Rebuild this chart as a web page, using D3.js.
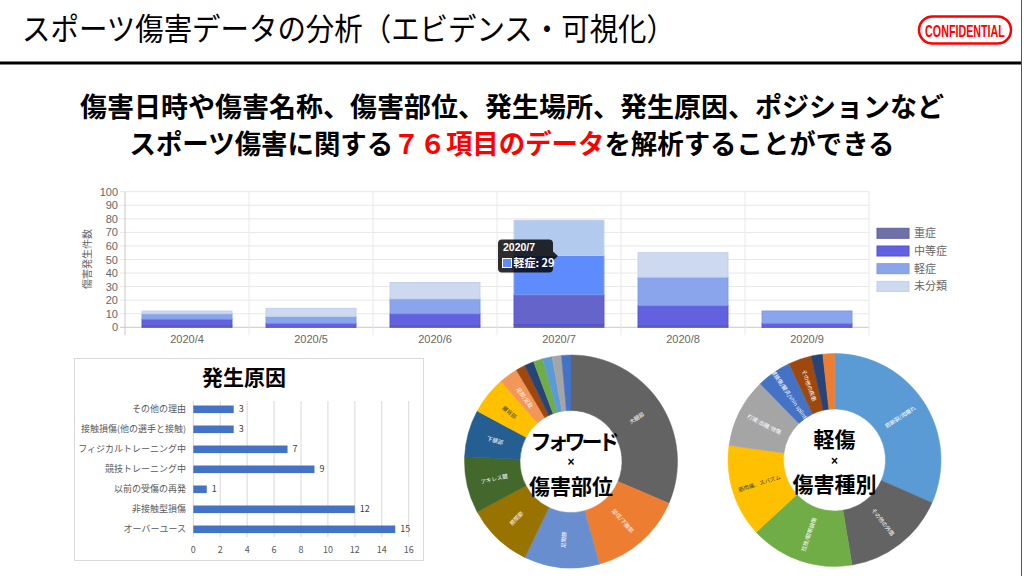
<!DOCTYPE html>
<html>
<head>
<meta charset="utf-8">
<script src="https://cdn.jsdelivr.net/npm/d3@7"></script>
<style>
body { margin: 0; background: #fff; }
svg { display: block; font-family: "Noto Sans CJK JP", "Noto Sans", sans-serif; }
</style>
</head>
<body>
<svg id="slide" width="1024" height="576"></svg>
<script>
// ---- data ----
var months = ["2020/4", "2020/5", "2020/6", "2020/7", "2020/8", "2020/9"];
var severeCounts = [1, 0, 1, 2, 1, 0];
var moderateCounts = [5, 3, 9, 22, 15, 3];
var mildCounts = [4, 5, 11, 29, 21, 9];
var unclassifiedCounts = [2, 6, 12, 26, 18, 0];
var severityNames = ["重症", "中等症", "軽症", "未分類"];
var yTicks = [0, 10, 20, 30, 40, 50, 60, 70, 80, 90, 100];
var hoverMonth = "2020/7";
var hoverSeries = "軽症";

var causeNames = ["その他の理由", "接触損傷(他の選手と接触)", "フィジカルトレーニング中", "競技トレーニング中", "以前の受傷の再発", "非接触型損傷", "オーバーユース"];
var causeCounts = [3, 3, 7, 9, 1, 12, 15];
var causeTicks = [0, 2, 4, 6, 8, 10, 12, 14, 16];

var partNames = ["大腿部", "鼠径/下腹部", "足関節", "膝関節", "アキレス腱", "下腿部", "腰背部", "足部/足趾", "肩関節", "頸部", "手関節", "胸部", "頭部", "前腕"];
var partCounts = [22, 10, 8, 7, 6, 5, 4, 2, 1, 1, 1, 1, 1, 1];
var partColors = ["#636363", "#ED7D31", "#698ED0", "#997300", "#43682B", "#255E91", "#FFC000", "#F1975A", "#9E480E", "#264478", "#70AD47", "#5B9BD5", "#A5A5A5", "#4472C4"];

var typeNames = ["筋断裂/肉離れ", "その他の外傷", "捻挫/靭帯損傷", "筋肉痛、スパズム", "打撲/血腫/挫傷", "腱損傷/腱炎/shin splints", "その他の疾患", "骨折", "脱臼"];
var typeCounts = [18, 9, 9, 8, 6, 3, 2, 1, 1];
var typeColors = ["#5B9BD5", "#636363", "#70AD47", "#FFC000", "#A5A5A5", "#4472C4", "#9E480E", "#264478", "#ED7D31"];

var svg = d3.select("#slide");

// ---- header ----
svg.append("rect").attr("width", 1024).attr("height", 576).attr("fill", "#fff");

svg.append("text")
    .attr("x", 22)
    .attr("y", 40)
    .attr("font-size", 31)
    .attr("textLength", 653)
    .attr("lengthAdjust", "spacingAndGlyphs")
    .attr("fill", "#000")
    .text("スポーツ傷害データの分析（エビデンス・可視化）");

svg.append("rect")
    .attr("x", 0).attr("y", 61.5)
    .attr("width", 1022).attr("height", 3)
    .attr("fill", "#000");
svg.append("line")
    .attr("x1", 1021.5).attr("x2", 1021.5)
    .attr("y1", 0).attr("y2", 576)
    .attr("stroke", "#555").attr("stroke-width", 1);

svg.append("rect")
    .attr("x", 919).attr("y", 16.5)
    .attr("width", 92).attr("height", 27)
    .attr("rx", 13.5)
    .attr("fill", "#fff")
    .attr("stroke", "#f00").attr("stroke-width", 2.5);
// condensed stamp lettering
svg.append("text")
    .attr("transform", "translate(965,36.5) scale(0.67,1)")
    .attr("text-anchor", "middle")
    .attr("font-family", "Liberation Sans, Arial, sans-serif")
    .attr("font-weight", "bold")
    .attr("font-size", 16)
    .attr("fill", "#f00")
    .text("CONFIDENTIAL");

// ---- lead text ----
svg.append("text")
    .attr("x", 512).attr("y", 117)
    .attr("text-anchor", "middle")
    .attr("font-size", 27)
    .attr("font-weight", "bold")
    .attr("fill", "#000")
    .text("傷害日時や傷害名称、傷害部位、発生場所、発生原因、ポジションなど");

var lead2 = svg.append("text")
    .attr("x", 512).attr("y", 154)
    .attr("text-anchor", "middle")
    .attr("font-size", 27)
    .attr("font-weight", "bold")
    .attr("textLength", 765)
    .attr("lengthAdjust", "spacingAndGlyphs")
    .attr("fill", "#000");
lead2.append("tspan").text("スポーツ傷害に関する");
lead2.append("tspan").attr("fill", "#f00").text("７６項目のデータ");
lead2.append("tspan").text("を解析することができる");

// ---- stacked bar chart ----
var fillColors = ["#7070a9", "#6262e0", "#8ba5ec", "#cdd9ee"];
var strokeColors = ["#5f5f9e", "#5151dc", "#7d99e8", "#c2d0ec"];
var hoverColors = ["#5d5d9e", "#6464cb", "#5f8cfc", "#b2caee"];

var rows = months.map(function (m, i) {
    return { month: m, "重症": severeCounts[i], "中等症": moderateCounts[i], "軽症": mildCounts[i], "未分類": unclassifiedCounts[i] };
});
var series = d3.stack().keys(severityNames)(rows);

var x = d3.scaleBand().domain(months).range([125, 869]);
var y = d3.scaleLinear().domain([0, 100]).range([327.3, 191.7]);
var barW = x.bandwidth() * 0.725;

var bar = svg.append("g").attr("font-family", "Liberation Sans, Arial, sans-serif");

// gridlines
bar.selectAll(".hgrid")
    .data(yTicks)
    .enter()
    .append("line")
    .attr("x1", 120).attr("x2", 869)
    .attr("y1", function (d) { return y(d); })
    .attr("y2", function (d) { return y(d); })
    .attr("stroke", function (d) { return d === 0 ? "#c8c8c8" : "#e8e8e8"; })
    .attr("stroke-width", 1);

var bounds = months.map(function (m) { return x(m); }).concat([x.range()[1]]);
bar.selectAll(".vgrid")
    .data(bounds)
    .enter()
    .append("line")
    .attr("x1", function (d) { return d; })
    .attr("x2", function (d) { return d; })
    .attr("y1", y(100))
    .attr("y2", y(0) + 8)
    .attr("stroke", function (d, i) { return i === 0 ? "#c8c8c8" : "#e8e8e8"; })
    .attr("stroke-width", 1);

// axes labels
bar.append("g")
    .attr("transform", "translate(120,0)")
    .call(d3.axisLeft(y).tickValues(yTicks).tickSize(0).tickPadding(2))
    .attr("font-family", "Liberation Sans, Arial, sans-serif")
    .attr("font-size", 11)
    .call(function (g) { g.select(".domain").remove(); })
    .selectAll("text").attr("fill", "#666");

bar.append("g")
    .attr("transform", "translate(0," + y(0) + ")")
    .call(d3.axisBottom(x).tickSize(0).tickPadding(8))
    .attr("font-family", "Liberation Sans, Arial, sans-serif")
    .attr("font-size", 11)
    .call(function (g) { g.select(".domain").remove(); })
    .selectAll("text").attr("fill", "#666");

bar.append("text")
    .attr("transform", "translate(91,259) rotate(-90)")
    .attr("text-anchor", "middle")
    .attr("font-family", "Noto Sans CJK JP, sans-serif")
    .attr("font-size", 10)
    .attr("fill", "#666")
    .text("傷害発生件数");

// stacked segments
series.forEach(function (s) {
    bar.selectAll(".seg" + s.index)
        .data(s.filter(function (d) { return d[1] > d[0]; }))
        .enter()
        .append("rect")
        .attr("x", function (d) { return x(d.data.month) + (x.bandwidth() - barW) / 2; })
        .attr("y", function (d) { return y(d[1]); })
        .attr("width", barW)
        .attr("height", function (d) { return y(d[0]) - y(d[1]); })
        .attr("fill", function (d) { return d.data.month === hoverMonth ? hoverColors[s.index] : fillColors[s.index]; })
        .attr("stroke", strokeColors[s.index])
        .attr("stroke-width", 1);
});

// legend
var legend = bar.selectAll(".legend")
    .data(severityNames)
    .enter()
    .append("g")
    .attr("transform", function (d, i) { return "translate(877," + (233.3 + i * 17.7) + ")"; });
legend.append("rect")
    .attr("x", 0).attr("y", -5)
    .attr("width", 32).attr("height", 10)
    .attr("fill", function (d, i) { return fillColors[i]; })
    .attr("stroke", function (d, i) { return strokeColors[i]; });
legend.append("text")
    .attr("x", 37).attr("dy", "0.35em")
    .attr("font-family", "Noto Sans CJK JP, sans-serif")
    .attr("font-size", 11)
    .attr("fill", "#666")
    .text(function (d) { return d; });

// tooltip
var hi = months.indexOf(hoverMonth);
var tipRight = x(hoverMonth) + 56;
var tip = bar.append("g").attr("transform", "translate(" + (tipRight - 55) + ",239.5)");
tip.append("path")
    .attr("d", "M4,0 H51 Q55,0 55,4 V12 L60,16.5 L55,21 V29 Q55,33 51,33 H4 Q0,33 0,29 V4 Q0,0 4,0 Z")
    .attr("fill", "rgba(0,0,0,0.82)");
tip.append("text")
    .attr("x", 5).attr("y", 11.5)
    .attr("font-size", 10.5).attr("font-weight", "bold")
    .attr("fill", "#fff")
    .text(hoverMonth);
tip.append("rect")
    .attr("x", 4.5).attr("y", 19).attr("width", 9).attr("height", 9)
    .attr("fill", hoverColors[severityNames.indexOf(hoverSeries)])
    .attr("stroke", "#fff").attr("stroke-width", 1);
tip.append("text")
    .attr("x", 15.5).attr("y", 27.5)
    .attr("font-family", "Noto Sans CJK JP, sans-serif")
    .attr("font-size", 11).attr("font-weight", "bold")
    .attr("fill", "#fff")
    .text(hoverSeries + ": " + mildCounts[hi]);

// ---- cause bar chart ----
var cause = svg.append("g");
cause.append("rect")
    .attr("x", 74.5).attr("y", 358.5)
    .attr("width", 349).attr("height", 202)
    .attr("fill", "#fff")
    .attr("stroke", "#d9d9d9");
cause.append("text")
    .attr("x", 244).attr("y", 385)
    .attr("text-anchor", "middle")
    .attr("font-size", 21).attr("font-weight", "bold")
    .attr("fill", "#000")
    .text("発生原因");

var cy = d3.scaleBand().domain(causeNames).range([399.3, 539.3]).paddingInner(0.62).paddingOuter(0.31);
var cx = d3.scaleLinear().domain([0, 16]).range([193.3, 408.7]);

cause.selectAll(".cgrid")
    .data(causeTicks)
    .enter()
    .append("line")
    .attr("x1", function (d) { return cx(d); })
    .attr("x2", function (d) { return cx(d); })
    .attr("y1", 401).attr("y2", 537)
    .attr("stroke", "#d9d9d9");

cause.selectAll(".ctick")
    .data(causeTicks)
    .enter()
    .append("text")
    .attr("x", function (d) { return cx(d); })
    .attr("y", 553)
    .attr("text-anchor", "middle")
    .attr("font-size", 9)
    .attr("fill", "#595959")
    .text(function (d) { return d; });

cause.selectAll(".cbar")
    .data(causeNames)
    .enter()
    .append("rect")
    .attr("x", cx(0))
    .attr("y", function (d) { return cy(d); })
    .attr("width", function (d, i) { return cx(causeCounts[i]) - cx(0); })
    .attr("height", cy.bandwidth())
    .attr("fill", "#4472c4");

cause.selectAll(".cname")
    .data(causeNames)
    .enter()
    .append("text")
    .attr("x", 186)
    .attr("y", function (d) { return cy(d) + cy.bandwidth() / 2; })
    .attr("dy", "0.35em")
    .attr("text-anchor", "end")
    .attr("font-size", 9)
    .attr("fill", "#595959")
    .text(function (d) { return d; });

cause.selectAll(".cval")
    .data(causeNames)
    .enter()
    .append("text")
    .attr("x", function (d, i) { return cx(causeCounts[i]) + 5; })
    .attr("y", function (d) { return cy(d) + cy.bandwidth() / 2; })
    .attr("dy", "0.35em")
    .attr("font-size", 9)
    .attr("fill", "#404040")
    .text(function (d, i) { return causeCounts[i]; });

// ---- donuts ----
function drawDonut(cxp, cyp, names, counts, colors, line1, line2, squeeze) {
    var g = svg.append("g").attr("transform", "translate(" + cxp + "," + cyp + ")");
    var pie = d3.pie().sort(null).value(function (d) { return d; });
    var arc = d3.arc().innerRadius(51).outerRadius(106.5);
    var arcs = pie(counts);

    g.selectAll("path")
        .data(arcs)
        .enter()
        .append("path")
        .attr("d", arc)
        .attr("fill", function (d, i) { return colors[i]; })
        .attr("stroke", function (d, i) { return colors[i]; })
        .attr("stroke-width", 0.5);

    g.selectAll(".slabel")
        .data(arcs.filter(function (d) { return d.value >= 2; }))
        .enter()
        .append("text")
        .attr("transform", function (d) {
            var c = arc.centroid(d);
            var deg = (d.startAngle + d.endAngle) / 2 * 180 / Math.PI;
            var rot = deg < 180 ? deg - 90 : deg - 270;
            return "translate(" + c[0] + "," + c[1] + ") rotate(" + rot + ")";
        })
        .attr("text-anchor", "middle")
        .attr("dy", "0.35em")
        .attr("font-size", 5.5)
        .attr("fill", function (d) { return colors[d.index] === "#FFC000" ? "#404040" : "#fff"; })
        .text(function (d) { return names[d.index]; });

    // centre caption
    g.append("text")
        .attr("x", squeeze ? 2 : 0).attr("y", -13)
        .attr("text-anchor", "middle")
        .attr("font-size", 21).attr("font-weight", "bold")
        .attr("letter-spacing", squeeze ? -4 : 0)
        .attr("fill", "#000")
        .text(line1);
    g.append("text")
        .attr("y", 4.5)
        .attr("text-anchor", "middle")
        .attr("font-family", "Liberation Sans, Arial, sans-serif")
        .attr("font-size", 12).attr("font-weight", "bold")
        .attr("fill", "#000")
        .text("×");
    g.append("text")
        .attr("y", 32)
        .attr("text-anchor", "middle")
        .attr("font-size", 21).attr("font-weight", "bold")
        .attr("fill", "#000")
        .text(line2);
}

drawDonut(571, 461.5, partNames, partCounts, partColors, "フォワード", "傷害部位", true);
drawDonut(834.5, 460, typeNames, typeCounts, typeColors, "軽傷", "傷害種別", false);
</script>
</body>
</html>
